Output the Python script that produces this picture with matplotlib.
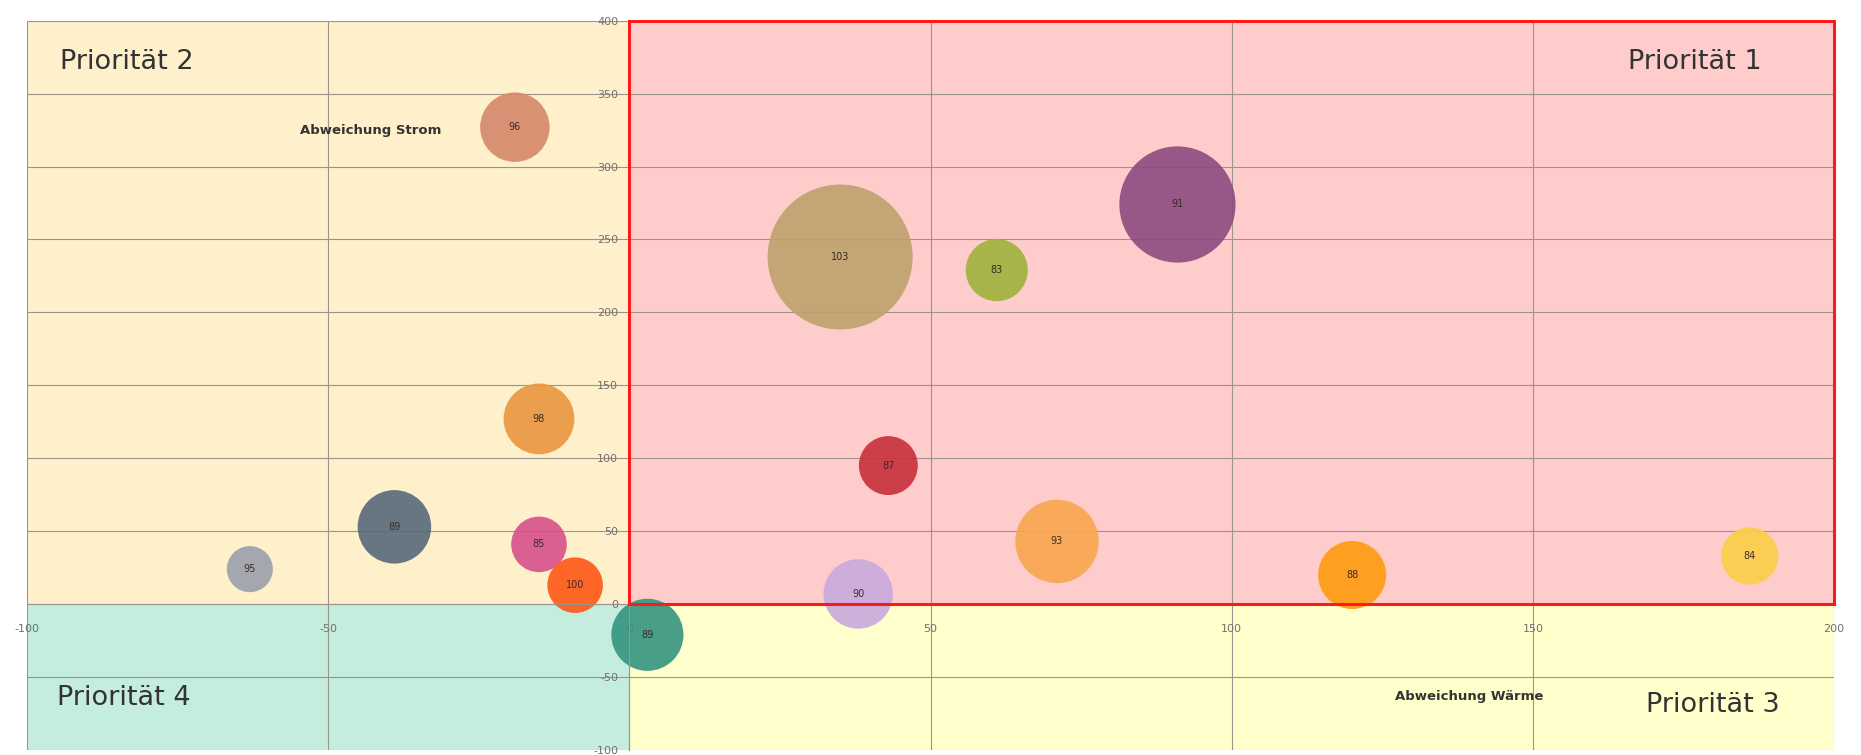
import matplotlib
matplotlib.use('Agg')
import matplotlib.pyplot as plt
import numpy as np
from matplotlib.patches import Rectangle

plt.rcParams['axes.unicode_minus'] = False

# ---- data ----
labels = ['96', '98', '89', '95', '85', '100', '89', '103', '83', '91', '87', '90', '93', '88', '84']
abweichung_waerme = [-19, -15, -39, -63, -15, -9, 3, 35, 61, 91, 43, 38, 71, 120, 186]
abweichung_strom = [327, 127, 53, 24, 41, 13, -21, 238, 229, 274, 95, 7, 43, 20, 33]
bubble_size = [25, 26, 28, 11, 16, 16, 27, 109, 20, 70, 18, 25, 36, 24, 17]
colors = ['#D4886A', '#E9963E', '#58697A', '#9AA1AB', '#D8508C', '#FF5716',
          '#34947F', '#BEA16C', '#9DB23A', '#8C4A80', '#C8303A', '#C9A9DD',
          '#F9A64E', '#FF9A0E', '#F9CF46']
x_ticks = [-100, -50, 0, 50, 100, 150, 200]
y_ticks = [-100, -50, 0, 50, 100, 150, 200, 250, 300, 350, 400]
quadrant_names = ['Priorität 1', 'Priorität 2', 'Priorität 3', 'Priorität 4']
x_title = 'Abweichung Wärme'
y_title = 'Abweichung Strom'

# ---- figure ----
fig = plt.figure(figsize=(18.61, 7.55), dpi=100)
ax = fig.add_axes([0.0145, 0.0066, 0.971, 0.966])
xmin, xmax = x_ticks[0], x_ticks[-1]
ymin, ymax = y_ticks[0], y_ticks[-1]
ax.set_xlim(xmin, xmax)
ax.set_ylim(ymin, ymax)

# quadrant backgrounds
ax.add_patch(Rectangle((0, 0), xmax, ymax, facecolor='#FFCCCC', edgecolor='none', zorder=0))
ax.add_patch(Rectangle((xmin, 0), -xmin, ymax, facecolor='#FDF0CB', edgecolor='none', zorder=0))
ax.add_patch(Rectangle((0, ymin), xmax, -ymin, facecolor='#FFFFCC', edgecolor='none', zorder=0))
ax.add_patch(Rectangle((xmin, ymin), -xmin, -ymin, facecolor='#C5EDDE', edgecolor='none', zorder=0))

# grid
for xv in x_ticks:
    ax.axvline(xv, color='#9C948C', lw=0.8, zorder=0.5)
for yv in y_ticks:
    ax.axhline(yv, color='#9C948C', lw=0.8, zorder=0.5)

ax.scatter(abweichung_waerme, abweichung_strom, s=np.array(bubble_size) * 100,
           c=colors, marker='o', alpha=0.9, linewidths=0, zorder=2)
for xv, yv, lab in zip(abweichung_waerme, abweichung_strom, labels):
    ax.text(xv, yv, lab, ha='center', va='center', fontsize=7, color='#3A2A2A', zorder=3)

# priority 1 frame
ax.add_patch(Rectangle((0, 0), xmax, ymax, facecolor='none', edgecolor='#FF1A1A',
                       lw=2.2, zorder=4, clip_on=False))

# axes through origin
for side in ['top', 'right']:
    ax.spines[side].set_visible(False)
ax.spines['left'].set_position(('data', 0))
ax.spines['bottom'].set_position(('data', 0))
ax.spines['left'].set_color('#9C948C')
ax.spines['bottom'].set_color('#9C948C')
ax.set_xticks(x_ticks)
ax.set_yticks(y_ticks)
ax.tick_params(axis='both', length=0, labelsize=8, labelcolor='#707070')
ax.tick_params(axis='x', pad=14)
ax.tick_params(axis='y', pad=8)

# quadrant labels
qfs = 19.5
ax.text(188, 372, quadrant_names[0], ha='right', va='center', fontsize=qfs, color='#333333', zorder=5)
ax.text(-94.5, 372, quadrant_names[1], ha='left', va='center', fontsize=qfs, color='#333333', zorder=5)
ax.text(191, -69, quadrant_names[2], ha='right', va='center', fontsize=qfs, color='#333333', zorder=5)
ax.text(-95, -64, quadrant_names[3], ha='left', va='center', fontsize=qfs, color='#333333', zorder=5)

# axis titles
ax.text(-43, 325, y_title, ha='center', va='center', fontsize=9.5, fontweight='bold', color='#333333', zorder=5)
ax.text(139.5, -63.5, x_title, ha='center', va='center', fontsize=9.5, fontweight='bold', color='#333333', zorder=5)

fig.savefig('out.png', dpi=100, facecolor='white')
